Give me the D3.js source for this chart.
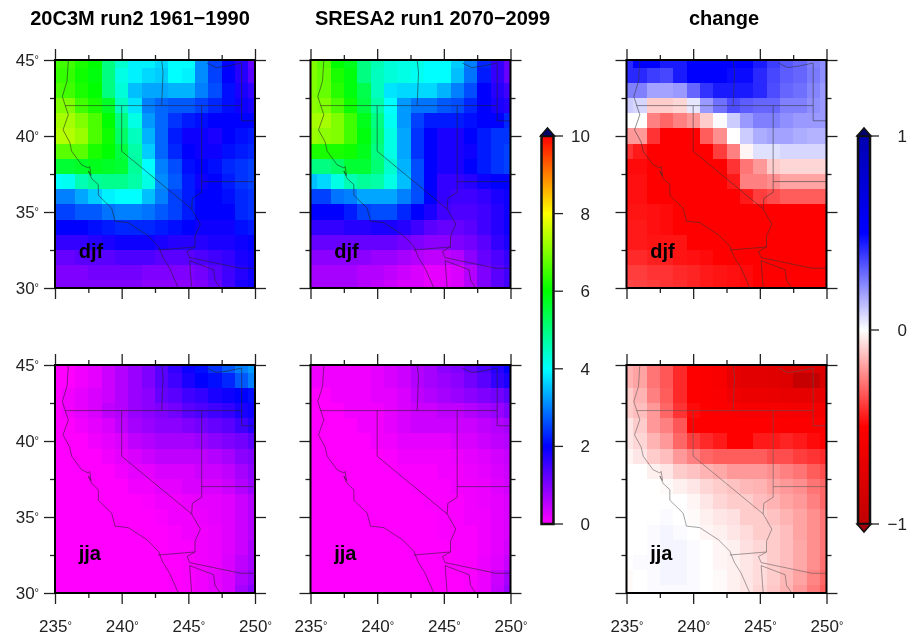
<!DOCTYPE html>
<html>
<head>
<meta charset="utf-8">
<script src="https://cdn.jsdelivr.net/npm/d3@7"></script>
<style>
  html, body { margin: 0; background: #fff; }
  svg { display: block; filter: blur(0.65px); }
  text { font-family: "Liberation Sans", Arial, sans-serif; }
</style>
</head>
<body>
<div id="chart"></div>
<script>
const LONS= [235, 236, 237, 238, 239, 240, 241, 242, 243, 244, 245, 246, 247, 248, 249, 250];
const LATS= [45, 44, 43, 42, 41, 40, 39, 38, 37, 36, 35, 34, 33, 32, 31, 30];
const LON_TICKS= [235, 240, 245, 250];
const LAT_TICKS= [30, 35, 40, 45];
const LON_MINOR= [237.5, 242.5, 247.5];
const LAT_MINOR= [32.5, 37.5, 42.5];

const TITLES= ['20C3M run2 1961\u22121990', 'SRESA2 run1 2070\u22122099', 'change'];
const SEASONS= ['djf', 'jja'];

// rows run north to south, columns west to east
const djfHist= [
  [6.5, 6.5, 6.2, 6.0, 5.0, 4.4, 3.9, 3.9, 3.7, 4.0, 4.0, 3.1, 2.5, 2.0, 1.7, 1.2],
  [6.4, 6.4, 6.1, 5.9, 5.0, 4.2, 3.9, 3.7, 3.6, 4.0, 3.9, 3.1, 2.5, 2.0, 1.7, 1.3],
  [6.6, 6.5, 6.2, 6.0, 5.0, 4.3, 3.5, 3.3, 3.3, 3.4, 3.4, 3.0, 2.6, 2.1, 1.8, 1.6],
  [7.0, 7.0, 6.5, 6.2, 5.7, 4.5, 3.8, 3.0, 2.8, 2.7, 2.7, 2.5, 2.3, 2.1, 1.9, 1.8],
  [7.3, 7.3, 7.0, 6.6, 6.0, 5.0, 4.2, 3.2, 2.8, 2.4, 2.2, 2.1, 2.0, 2.0, 2.0, 2.0],
  [7.4, 7.4, 7.2, 6.6, 6.1, 5.2, 4.5, 3.4, 2.8, 2.2, 1.9, 1.9, 1.8, 2.0, 2.1, 2.2],
  [6.7, 6.7, 6.7, 6.2, 6.0, 5.5, 4.7, 3.6, 2.8, 2.3, 2.0, 1.9, 1.9, 2.1, 2.2, 2.3],
  [5.6, 5.6, 5.7, 5.8, 5.7, 5.6, 4.8, 4.0, 3.0, 2.6, 2.1, 2.0, 2.1, 2.3, 2.4, 2.5],
  [4.0, 4.1, 4.6, 4.8, 4.9, 4.9, 4.7, 4.2, 3.1, 2.7, 2.2, 1.9, 2.0, 2.2, 2.4, 2.5],
  [3.0, 3.0, 3.3, 3.6, 3.9, 4.0, 4.0, 3.5, 3.0, 2.5, 2.2, 2.0, 2.0, 2.1, 2.3, 2.4],
  [2.5, 2.5, 2.7, 2.7, 2.9, 3.0, 3.0, 2.9, 2.7, 2.5, 2.2, 2.0, 2.0, 2.0, 2.3, 2.4],
  [2.0, 2.0, 2.0, 2.1, 2.2, 2.3, 2.3, 2.3, 2.2, 2.1, 2.0, 1.9, 1.9, 1.9, 2.1, 2.2],
  [1.6, 1.6, 1.6, 1.7, 1.8, 1.9, 1.9, 1.9, 1.8, 1.7, 1.7, 1.7, 1.8, 1.8, 1.9, 2.0],
  [1.2, 1.2, 1.3, 1.3, 1.3, 1.4, 1.4, 1.4, 1.3, 1.3, 1.3, 1.4, 1.5, 1.6, 1.8, 1.9],
  [1.0, 1.0, 1.0, 1.1, 1.1, 1.1, 1.1, 1.0, 1.0, 1.0, 1.0, 1.1, 1.3, 1.5, 1.7, 1.9],
  [1.0, 1.0, 1.0, 1.0, 1.0, 1.0, 1.0, 0.9, 0.9, 0.9, 0.9, 1.0, 1.2, 1.5, 1.8, 1.9],
];
const djfFuture= [
  [7.0, 6.7, 6.0, 5.8, 5.0, 4.6, 4.3, 4.2, 4.2, 4.0, 4.0, 3.6, 3.0, 2.3, 1.6, 1.2],
  [7.0, 6.8, 6.2, 5.9, 5.0, 4.5, 4.3, 4.2, 4.1, 4.0, 4.0, 3.5, 2.9, 2.2, 1.6, 1.2],
  [7.0, 6.8, 6.3, 5.9, 5.4, 4.5, 3.8, 3.7, 3.7, 3.7, 3.4, 3.0, 2.6, 2.0, 1.7, 1.5],
  [7.1, 7.0, 6.6, 6.1, 5.5, 4.7, 4.0, 3.2, 2.9, 2.9, 2.7, 2.6, 2.3, 2.0, 1.8, 1.7],
  [7.3, 7.3, 7.0, 6.5, 5.8, 5.0, 4.1, 3.2, 2.5, 2.2, 2.2, 2.2, 2.1, 2.0, 2.0, 2.3],
  [7.2, 7.1, 7.0, 6.5, 5.9, 5.1, 4.2, 3.3, 2.4, 2.0, 1.8, 1.8, 2.0, 2.2, 2.4, 2.4],
  [6.2, 6.2, 6.2, 6.1, 5.8, 5.0, 4.2, 3.3, 2.4, 2.0, 1.8, 1.8, 1.9, 2.2, 2.4, 2.5],
  [5.0, 5.0, 5.2, 5.6, 5.6, 5.1, 4.4, 3.4, 2.6, 2.0, 1.8, 1.8, 2.0, 2.2, 2.4, 2.5],
  [3.5, 3.7, 4.2, 4.6, 4.8, 4.7, 4.2, 3.5, 2.6, 2.0, 1.6, 1.6, 1.7, 1.9, 2.0, 2.0],
  [2.5, 2.5, 2.9, 3.0, 3.3, 3.3, 3.3, 3.0, 2.6, 2.0, 1.6, 1.5, 1.5, 1.6, 1.8, 1.9],
  [2.0, 2.0, 2.0, 2.2, 2.5, 2.6, 2.6, 2.3, 2.0, 1.8, 1.5, 1.4, 1.4, 1.5, 1.7, 1.9],
  [1.6, 1.6, 1.6, 1.7, 1.7, 1.8, 1.8, 1.7, 1.5, 1.3, 1.2, 1.2, 1.3, 1.5, 1.7, 1.9],
  [1.2, 1.2, 1.2, 1.2, 1.2, 1.2, 1.2, 1.1, 1.0, 0.9, 0.9, 1.0, 1.1, 1.3, 1.6, 1.8],
  [0.9, 0.9, 0.9, 0.9, 0.9, 0.8, 0.8, 0.7, 0.6, 0.5, 0.5, 0.6, 0.9, 1.2, 1.4, 1.6],
  [0.7, 0.7, 0.7, 0.7, 0.6, 0.6, 0.5, 0.4, 0.3, 0.2, 0.2, 0.3, 0.6, 1.0, 1.3, 1.5],
  [0.7, 0.7, 0.7, 0.7, 0.6, 0.5, 0.4, 0.3, 0.3, 0.2, 0.2, 0.3, 0.6, 1.0, 1.3, 1.5],
];
const djfChange= [
  [0.42, 0.50, 0.50, 0.45, 0.45, 0.50, 0.50, 0.50, 0.50, 0.50, 0.45, 0.38, 0.33, 0.30, 0.25, 0.22],
  [0.42, 0.42, 0.38, 0.36, 0.45, 0.50, 0.50, 0.50, 0.48, 0.48, 0.42, 0.36, 0.32, 0.30, 0.26, 0.22],
  [0.25, 0.25, 0.18, 0.18, 0.20, 0.30, 0.40, 0.45, 0.45, 0.45, 0.42, 0.35, 0.30, 0.28, 0.24, 0.20],
  [0.10, 0.08, -0.10, -0.10, -0.08, 0.05, 0.20, 0.28, 0.35, 0.32, 0.30, 0.30, 0.25, 0.25, 0.22, 0.20],
  [0.00, 0.00, -0.25, -0.30, -0.25, -0.20, -0.10, 0.01, 0.10, 0.20, 0.25, 0.25, 0.22, 0.20, 0.20, 0.20],
  [-0.20, -0.20, -0.40, -0.50, -0.50, -0.50, -0.32, -0.22, 0.00, 0.10, 0.16, 0.18, 0.18, 0.16, 0.15, 0.15],
  [-0.40, -0.45, -0.50, -0.50, -0.50, -0.50, -0.50, -0.38, -0.25, -0.02, 0.06, 0.06, 0.08, 0.08, 0.08, 0.08],
  [-0.48, -0.48, -0.50, -0.50, -0.50, -0.50, -0.50, -0.50, -0.40, -0.27, -0.20, -0.10, -0.08, -0.08, -0.08, -0.08],
  [-0.47, -0.47, -0.50, -0.50, -0.50, -0.50, -0.50, -0.50, -0.45, -0.25, -0.25, -0.22, -0.18, -0.18, -0.18, -0.18],
  [-0.47, -0.47, -0.50, -0.50, -0.50, -0.50, -0.50, -0.50, -0.50, -0.45, -0.38, -0.35, -0.32, -0.32, -0.32, -0.32],
  [-0.46, -0.46, -0.47, -0.48, -0.50, -0.50, -0.50, -0.50, -0.50, -0.50, -0.50, -0.50, -0.50, -0.50, -0.50, -0.50],
  [-0.45, -0.45, -0.47, -0.48, -0.50, -0.50, -0.50, -0.50, -0.50, -0.50, -0.50, -0.50, -0.50, -0.50, -0.50, -0.50],
  [-0.45, -0.45, -0.46, -0.46, -0.46, -0.50, -0.50, -0.50, -0.50, -0.50, -0.50, -0.50, -0.50, -0.50, -0.50, -0.50],
  [-0.42, -0.42, -0.44, -0.44, -0.46, -0.47, -0.48, -0.50, -0.50, -0.50, -0.50, -0.50, -0.50, -0.50, -0.50, -0.50],
  [-0.38, -0.38, -0.40, -0.40, -0.42, -0.43, -0.45, -0.46, -0.47, -0.48, -0.50, -0.50, -0.50, -0.50, -0.50, -0.50],
  [-0.36, -0.37, -0.38, -0.40, -0.41, -0.43, -0.45, -0.46, -0.47, -0.48, -0.50, -0.50, -0.50, -0.50, -0.50, -0.50],
];
const jjaHist= [
  [0.0, 0.0, 0.1, 0.2, 0.4, 0.6, 0.8, 1.0, 1.3, 1.6, 1.9, 2.1, 2.4, 2.7, 3.0, 3.2],
  [0.0, 0.0, 0.1, 0.2, 0.4, 0.6, 0.8, 1.0, 1.3, 1.5, 1.8, 2.0, 2.1, 2.3, 2.7, 3.0],
  [0.0, 0.1, 0.2, 0.3, 0.4, 0.6, 0.8, 0.9, 1.2, 1.3, 1.5, 1.6, 1.8, 1.9, 2.0, 2.1],
  [0.0, 0.1, 0.2, 0.3, 0.5, 0.6, 0.8, 0.9, 1.0, 1.1, 1.3, 1.4, 1.5, 1.6, 1.8, 1.9],
  [0.0, 0.0, 0.1, 0.2, 0.3, 0.5, 0.7, 0.8, 0.9, 0.9, 1.0, 1.1, 1.2, 1.3, 1.5, 1.7],
  [0.0, 0.0, 0.0, 0.1, 0.2, 0.3, 0.5, 0.6, 0.7, 0.7, 0.7, 0.8, 0.9, 1.0, 1.1, 1.3],
  [0.0, 0.0, 0.0, 0.0, 0.1, 0.2, 0.3, 0.4, 0.5, 0.5, 0.5, 0.5, 0.6, 0.7, 0.9, 1.0],
  [0.0, 0.0, 0.0, 0.0, 0.0, 0.1, 0.2, 0.2, 0.3, 0.3, 0.3, 0.4, 0.4, 0.5, 0.7, 0.9],
  [0.0, 0.0, 0.0, 0.0, 0.0, 0.0, 0.1, 0.1, 0.2, 0.2, 0.3, 0.3, 0.3, 0.4, 0.6, 0.8],
  [0.0, 0.0, 0.0, 0.0, 0.0, 0.0, 0.0, 0.05, 0.1, 0.1, 0.15, 0.2, 0.2, 0.25, 0.4, 0.6],
  [0.0, 0.0, 0.0, 0.0, 0.0, 0.0, 0.0, 0.0, 0.05, 0.1, 0.1, 0.15, 0.2, 0.25, 0.4, 0.6],
  [0.0, 0.0, 0.0, 0.0, 0.0, 0.0, 0.0, 0.0, 0.0, 0.05, 0.1, 0.1, 0.15, 0.25, 0.4, 0.6],
  [0.0, 0.0, 0.0, 0.0, 0.0, 0.0, 0.0, 0.0, 0.0, 0.05, 0.05, 0.1, 0.15, 0.25, 0.4, 0.65],
  [0.0, 0.0, 0.0, 0.0, 0.0, 0.0, 0.0, 0.0, 0.0, 0.0, 0.05, 0.1, 0.15, 0.3, 0.5, 0.7],
  [0.0, 0.0, 0.0, 0.0, 0.0, 0.0, 0.0, 0.0, 0.0, 0.0, 0.05, 0.1, 0.2, 0.3, 0.6, 0.8],
  [0.0, 0.0, 0.0, 0.0, 0.0, 0.0, 0.0, 0.0, 0.0, 0.0, 0.05, 0.1, 0.2, 0.3, 0.7, 0.95],
];
const jjaFuture= [
  [0.1, 0.1, 0.1, 0.1, 0.1, 0.2, 0.3, 0.4, 0.6, 0.7, 0.9, 1.0, 1.2, 1.4, 1.7, 2.0],
  [0.1, 0.1, 0.1, 0.1, 0.1, 0.2, 0.3, 0.4, 0.6, 0.7, 0.8, 0.9, 1.1, 1.3, 1.6, 1.8],
  [0.0, 0.0, 0.1, 0.1, 0.1, 0.2, 0.2, 0.3, 0.5, 0.6, 0.7, 0.8, 0.9, 1.0, 1.1, 1.3],
  [0.0, 0.0, 0.0, 0.1, 0.1, 0.1, 0.2, 0.3, 0.4, 0.4, 0.5, 0.5, 0.6, 0.7, 0.8, 1.0],
  [0.0, 0.0, 0.0, 0.0, 0.1, 0.1, 0.2, 0.3, 0.4, 0.4, 0.4, 0.4, 0.4, 0.5, 0.6, 0.7],
  [0.0, 0.0, 0.0, 0.0, 0.0, 0.1, 0.1, 0.2, 0.2, 0.2, 0.2, 0.3, 0.3, 0.4, 0.5, 0.6],
  [0.0, 0.0, 0.0, 0.0, 0.0, 0.0, 0.05, 0.1, 0.1, 0.1, 0.1, 0.15, 0.2, 0.25, 0.35, 0.45],
  [0.0, 0.0, 0.0, 0.0, 0.0, 0.0, 0.0, 0.05, 0.05, 0.05, 0.1, 0.1, 0.15, 0.2, 0.3, 0.4],
  [0.0, 0.0, 0.0, 0.0, 0.0, 0.0, 0.0, 0.0, 0.05, 0.05, 0.05, 0.1, 0.1, 0.15, 0.25, 0.35],
  [0.0, 0.0, 0.0, 0.0, 0.0, 0.0, 0.0, 0.0, 0.0, 0.05, 0.05, 0.05, 0.1, 0.15, 0.2, 0.3],
  [0.0, 0.0, 0.0, 0.0, 0.0, 0.0, 0.0, 0.0, 0.0, 0.0, 0.05, 0.05, 0.1, 0.1, 0.2, 0.3],
  [0.0, 0.0, 0.0, 0.0, 0.0, 0.0, 0.0, 0.0, 0.0, 0.0, 0.05, 0.05, 0.05, 0.1, 0.2, 0.3],
  [0.0, 0.0, 0.0, 0.0, 0.0, 0.0, 0.0, 0.0, 0.0, 0.0, 0.0, 0.05, 0.05, 0.1, 0.2, 0.35],
  [0.0, 0.0, 0.0, 0.0, 0.0, 0.0, 0.0, 0.0, 0.0, 0.0, 0.0, 0.05, 0.05, 0.15, 0.25, 0.45],
  [0.0, 0.0, 0.0, 0.0, 0.0, 0.0, 0.0, 0.0, 0.0, 0.0, 0.0, 0.0, 0.05, 0.15, 0.4, 0.7],
  [0.0, 0.0, 0.0, 0.0, 0.0, 0.0, 0.0, 0.0, 0.0, 0.0, 0.0, 0.0, 0.05, 0.15, 0.45, 0.8],
];
const jjaChange= [
  [-0.15, -0.18, -0.27, -0.33, -0.42, -0.50, -0.52, -0.55, -0.70, -0.72, -0.72, -0.74, -0.76, -0.78, -0.78, -0.78],
  [-0.15, -0.18, -0.27, -0.33, -0.42, -0.50, -0.52, -0.55, -0.70, -0.72, -0.72, -0.74, -0.76, -0.95, -0.95, -0.80],
  [-0.10, -0.15, -0.25, -0.32, -0.42, -0.50, -0.52, -0.54, -0.62, -0.64, -0.64, -0.66, -0.68, -0.70, -0.70, -0.68],
  [-0.10, -0.13, -0.20, -0.30, -0.40, -0.48, -0.50, -0.52, -0.54, -0.55, -0.55, -0.56, -0.56, -0.58, -0.58, -0.58],
  [-0.05, -0.10, -0.20, -0.25, -0.33, -0.50, -0.50, -0.50, -0.50, -0.50, -0.50, -0.50, -0.52, -0.52, -0.52, -0.52],
  [-0.05, -0.08, -0.15, -0.20, -0.30, -0.38, -0.42, -0.45, -0.50, -0.50, -0.45, -0.45, -0.43, -0.45, -0.48, -0.50],
  [-0.02, -0.05, -0.10, -0.13, -0.20, -0.25, -0.30, -0.32, -0.32, -0.32, -0.32, -0.35, -0.35, -0.38, -0.40, -0.42],
  [0.00, 0.00, -0.03, -0.05, -0.10, -0.12, -0.15, -0.17, -0.20, -0.20, -0.20, -0.22, -0.25, -0.27, -0.32, -0.35],
  [0.00, 0.00, 0.00, -0.01, -0.03, -0.05, -0.08, -0.10, -0.12, -0.14, -0.15, -0.18, -0.20, -0.22, -0.27, -0.30],
  [0.00, 0.00, 0.00, 0.00, 0.00, -0.02, -0.05, -0.08, -0.10, -0.10, -0.13, -0.15, -0.18, -0.20, -0.25, -0.30],
  [0.00, 0.00, 0.00, 0.01, 0.00, -0.01, -0.03, -0.05, -0.06, -0.10, -0.10, -0.12, -0.15, -0.18, -0.22, -0.27],
  [0.00, 0.00, 0.01, 0.02, 0.01, 0.00, -0.02, -0.03, -0.05, -0.07, -0.10, -0.10, -0.13, -0.18, -0.22, -0.27],
  [0.00, 0.00, 0.01, 0.02, 0.02, 0.01, 0.00, -0.02, -0.03, -0.06, -0.08, -0.10, -0.13, -0.17, -0.22, -0.27],
  [0.00, 0.01, 0.01, 0.02, 0.02, 0.01, 0.00, -0.02, -0.03, -0.05, -0.07, -0.10, -0.13, -0.17, -0.22, -0.28],
  [-0.01, 0.00, 0.01, 0.02, 0.02, 0.01, 0.00, -0.01, -0.03, -0.05, -0.07, -0.10, -0.14, -0.18, -0.24, -0.30],
  [-0.01, 0.00, 0.01, 0.01, 0.01, 0.01, 0.00, -0.01, -0.03, -0.05, -0.08, -0.11, -0.15, -0.20, -0.26, -0.32],
];

// map outlines as [lon, lat]
const coast= [[236,45],[235.9,43.6],[235.55,42.6],[235.75,42.05],[236,41.4],[235.6,40.4],[236.1,39.6],[236.25,39],
  [237,38.1],[237.5,37.9],[237.6,38],[237.7,37.4],[237.5,37.7],[237.75,37.2],[238.25,36.8],[238.25,36.1],[239.25,35.25],
  [239.5,34.4],[240.5,34.3],[241.9,33.5],[242.75,32.75],[243.1,32],[243.6,31.3],[244.25,30]];
const borders= [
  [[235.75,42],[249,42]],
  [[243,45],[243.1,44.2],[243,42]],
  [[240,42],[240,39],[245.25,35.2],[245.9,34.2],[245.5,33.4],[245.5,32.7]],
  [[242.75,32.5],[245.5,32.7]],
  [[246,42],[246,36.3],[245.3,35.9],[245.25,35.2]],
  [[246,37],[250,37]],
  [[249,44.8],[249,41],[250,41]],
  [[246.4,44.8],[247.1,44.5],[247.9,44.6],[249,44.8]],
  [[245.5,32.7],[244.9,32.4],[245.1,32],[248.9,31.3],[250,31.3]],
  [[245.1,31.8],[245.25,30]],
  [[245.1,31.8],[246.9,31.2],[247,30.5],[247.4,30]],
];

const PRECIP_STOPS= [0, 2, 4, 6, 8, 10];
const PRECIP_COLORS= ['#ff00ff', '#0000ff', '#00ffff', '#00ff00', '#ffff00', '#ff0000'];
const CHANGE_STOPS= [-1, -0.5, 0, 0.5, 1];
const CHANGE_COLORS= ['#c00000', '#ff0000', '#ffffff', '#0000ff', '#0000b0'];
const PRECIP_TICKS= [0, 2, 4, 6, 8, 10];
const CHANGE_TICKS= [-1, 0, 1];

const precipColor= d3.scaleLinear().domain(PRECIP_STOPS).range(PRECIP_COLORS).clamp(true);
const changeColor= d3.scaleLinear().domain(CHANGE_STOPS).range(CHANGE_COLORS).clamp(true);

const W= 908, H= 635;
const PANEL_W= 200, PANEL_H= 228;
const colX= [55, 310.5, 626.5];
const rowY= [60, 365];
const TICK_COL= '#222';

const svg= d3.select('#chart').append('svg').attr('width', W).attr('height', H);
const defs= svg.append('defs');

const panels= [
  { col: 0, row: 0, grid: djfHist, color: precipColor, lineCol: '#222' },
  { col: 1, row: 0, grid: djfFuture, color: precipColor, lineCol: '#222' },
  { col: 2, row: 0, grid: djfChange, color: changeColor, lineCol: '#333' },
  { col: 0, row: 1, grid: jjaHist, color: precipColor, lineCol: '#222' },
  { col: 1, row: 1, grid: jjaFuture, color: precipColor, lineCol: '#222' },
  { col: 2, row: 1, grid: jjaChange, color: changeColor, lineCol: '#555' },
];

const x= d3.scaleLinear().domain([235, 250]).range([0, PANEL_W]);
const y= d3.scaleLinear().domain([30, 45]).range([PANEL_H, 0]);
const line= d3.line().x(d => x(d[0])).y(d => y(d[1]));

defs.append('clipPath').attr('id', 'panel-clip')
  .append('rect').attr('width', PANEL_W).attr('height', PANEL_H);

function degreeLabels(sel) {
  sel.selectAll('.tick text').each(function(d) {
    const t= d3.select(this);
    t.text(d);
    t.append('tspan').attr('font-size', 11).attr('dy', -3).text('\u00b0');
  });
}

function styleAxis(g) {
  g.select('.domain').remove();
  g.selectAll('.tick line').attr('stroke', TICK_COL).attr('stroke-width', 1.3);
  g.selectAll('text').attr('font-size', 17).attr('fill', '#222');
}

function drawTicks(g, p) {
  const sides= [
    { axis: d3.axisLeft(y), vals: LAT_TICKS, minor: LAT_MINOR, at: [0, 0], label: p.col === 0 },
    { axis: d3.axisRight(y), vals: LAT_TICKS, minor: LAT_MINOR, at: [PANEL_W, 0], label: false },
    { axis: d3.axisTop(x), vals: LON_TICKS, minor: LON_MINOR, at: [0, 0], label: false },
    { axis: d3.axisBottom(x), vals: LON_TICKS, minor: LON_MINOR, at: [0, PANEL_H], label: p.row === 1 },
  ];
  sides.forEach(s => {
    const major= g.append('g').attr('transform', `translate(${s.at})`)
      .call(s.axis.tickValues(s.vals).tickSize(11).tickPadding(s.at[1] === PANEL_H ? 16 : 5));
    styleAxis(major);
    if (s.label) degreeLabels(major);
    else major.selectAll('text').remove();

    const minor= g.append('g').attr('transform', `translate(${s.at})`)
      .call(s.axis.tickValues(s.minor).tickSize(5).tickFormat(''));
    styleAxis(minor);
  });
}

panels.forEach(p => {
  const g= svg.append('g').attr('transform', `translate(${colX[p.col]},${rowY[p.row]})`);

  const cells= g.append('g').attr('clip-path', 'url(#panel-clip)');
  p.grid.forEach((rowVals, r) => {
    cells.selectAll(null).data(rowVals).join('rect')
      .attr('x', (d, i) => x(LONS[i]-0.5))
      .attr('y', y(LATS[r]+0.5))
      .attr('width', x(1)-x(0))
      .attr('height', y(0)-y(1))
      .attr('shape-rendering', 'crispEdges')
      .attr('fill', d => p.color(d));
  });

  const map= g.append('g').attr('clip-path', 'url(#panel-clip)')
    .attr('fill', 'none').attr('stroke', p.lineCol).attr('stroke-opacity', 0.6).attr('stroke-width', 0.9);
  map.append('path').attr('d', line(coast));
  borders.forEach(b => map.append('path').attr('d', line(b)));

  g.append('text')
    .attr('x', x(236.78)).attr('y', y(p.row === 0 ? 32.0 : 32.15))
    .attr('font-size', 20).attr('font-weight', 700).attr('fill', '#000')
    .text(SEASONS[p.row]);

  drawTicks(g, p);

  g.append('rect')
    .attr('width', PANEL_W).attr('height', PANEL_H)
    .attr('fill', 'none').attr('stroke', '#000').attr('stroke-width', 2);
});

// column titles
[140, 432.5, 724].forEach((cx, i) => {
  svg.append('text')
    .attr('x', cx).attr('y', 25)
    .attr('text-anchor', 'middle')
    .attr('font-size', 20).attr('font-weight', 700).attr('fill', '#000')
    .text(TITLES[i]);
});

function colorBar(opts) {
  const { id, left, width, stops, colors, ticks, labelX, tickEnd, lowArrow, highFill, lowFill, fmt }= opts;
  const scale= d3.scaleLinear().domain([stops[0], stops[stops.length-1]]).range([524, 136]);

  const grad= defs.append('linearGradient').attr('id', id)
    .attr('gradientUnits', 'userSpaceOnUse')
    .attr('x1', 0).attr('x2', 0)
    .attr('y1', scale.range()[0]).attr('y2', scale.range()[1]);
  grad.selectAll('stop').data(stops).join('stop')
    .attr('offset', d => (d-stops[0])/(stops[stops.length-1]-stops[0]))
    .attr('stop-color', (d, i) => colors[i]);

  const g= svg.append('g');
  g.append('rect')
    .attr('x', left).attr('y', scale.range()[1])
    .attr('width', width).attr('height', scale.range()[0]-scale.range()[1])
    .attr('fill', `url(#${id})`)
    .attr('stroke', '#111').attr('stroke-width', 2.5);

  const arrow= (tipY, baseY, fill) => g.append('path')
    .attr('d', `M${left-1},${baseY}L${left+width/2},${tipY}L${left+width+1},${baseY}Z`)
    .attr('fill', fill).attr('stroke', '#111').attr('stroke-width', 1.5);
  arrow(scale.range()[1]-8, scale.range()[1], highFill);
  if (lowArrow) arrow(scale.range()[0]+8, scale.range()[0], lowFill);

  g.selectAll('line.bar-tick').data(ticks).join('line')
    .attr('class', 'bar-tick')
    .attr('x1', left+width).attr('x2', tickEnd)
    .attr('y1', d => scale(d)).attr('y2', d => scale(d))
    .attr('stroke', TICK_COL).attr('stroke-width', 1.3);

  g.selectAll('text').data(ticks).join('text')
    .attr('x', labelX).attr('y', d => scale(d)+6)
    .attr('text-anchor', 'end')
    .attr('font-size', 17).attr('fill', '#222')
    .text(fmt);
}

colorBar({
  id: 'precip-bar', left: 541.5, width: 12, stops: PRECIP_STOPS, colors: PRECIP_COLORS,
  ticks: PRECIP_TICKS, labelX: 590, tickEnd: 563, lowArrow: false, highFill: '#00006a',
  fmt: d => d,
});
colorBar({
  id: 'change-bar', left: 858, width: 12, stops: CHANGE_STOPS, colors: CHANGE_COLORS,
  ticks: CHANGE_TICKS, labelX: 907, tickEnd: 879, lowArrow: true, highFill: '#00006a', lowFill: '#a00010',
  fmt: d => d < 0 ? `\u2212${-d}` : d,
});
</script>
</body>
</html>
